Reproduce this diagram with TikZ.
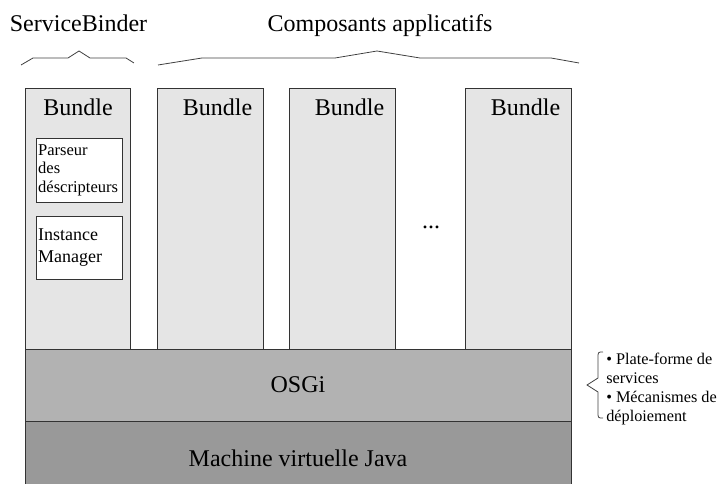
\documentclass[tikz,border=0pt]{standalone}
\usepackage{fontspec}
\setmainfont{Liberation Serif}
\usetikzlibrary{positioning}

\begin{document}
\begin{tikzpicture}[x=0.75pt, y=-0.75pt,
    big/.style={font=\fontsize{18}{21}\selectfont},
    bundle/.style={draw=black!80, fill=black!10, line width=0.6pt, minimum width=79pt, minimum height=195.75pt, inner sep=0pt},
    inbox/.style={draw=black!80, fill=white, line width=0.6pt, text width=62pt, align=left, inner xsep=1.5pt, inner ysep=0pt},
    layer/.style={draw=black!80, line width=0.6pt, minimum width=409.5pt, inner sep=0pt, font=\fontsize{18}{21}\selectfont},
    brace/.style={draw=black!75, line width=0.6pt}]
    \useasboundingbox (0,0) rectangle (721,484);
    \clip (0,0) rectangle (721,484);

    % Titles
    \node[big, anchor=base] (sb) at (78.5,32) {ServiceBinder};
    \node[big, anchor=base] (apps) at (380,32) {Composants applicatifs};
    \draw[brace] (21,65) -- (33,58) -- (68,58) -- (79,51) -- (90,58) -- (126,58) -- (134,63);
    \draw[brace] (158,65) -- (202,58) -- (335,58) -- (377,51) -- (420,58) -- (551,58) -- (579,63);

    % Bundles
    \node[bundle] (col1) at (78,218.5) {};
    \node[bundle] (col2) at (210.5,218.5) {};
    \node[bundle] (col3) at (342.5,218.5) {};
    \node[bundle] (col4) at (518.5,218.5) {};
    \node[big, anchor=base] (lab1) at (78,116) {Bundle};
    \node[big, anchor=base] (lab2) at (217.5,116) {Bundle};
    \node[big, anchor=base] (lab3) at (349.5,116) {Bundle};
    \node[big, anchor=base] (lab4) at (525.5,116) {Bundle};
    \node[big] (dots) at (431,227) {...};

    % ServiceBinder parts
    \node[inbox, minimum height=48pt, font=\fontsize{12.4}{13.9}\selectfont] (parser) at (79.5,170) {Parseur\\des\\déscripteurs};
    \node[inbox, minimum height=47.25pt, font=\fontsize{13.5}{16.5}\selectfont] (manager) at (79.5,247.5) {Instance\\Manager};

    % Layers
    \node[layer, fill=black!40, minimum height=55.5pt] (jvm) at (298,458) {Machine virtuelle Java};
    \node[layer, fill=black!30, minimum height=54pt] (osgi) at (298,385) {OSGi};

    % OSGi features
    \draw[brace] (603,352) .. controls (598,352) .. (598,358) -- (598,378) -- (587,385) -- (598,392) -- (598,412) .. controls (598,418) .. (603,418);
    \node[anchor=north west, inner sep=0pt, align=left, font=\fontsize{12.2}{14.25}\selectfont] (feat) at (606,352.6) {• Plate-forme de\\services\\• Mécanismes de\\déploiement};
\end{tikzpicture}
\end{document}
